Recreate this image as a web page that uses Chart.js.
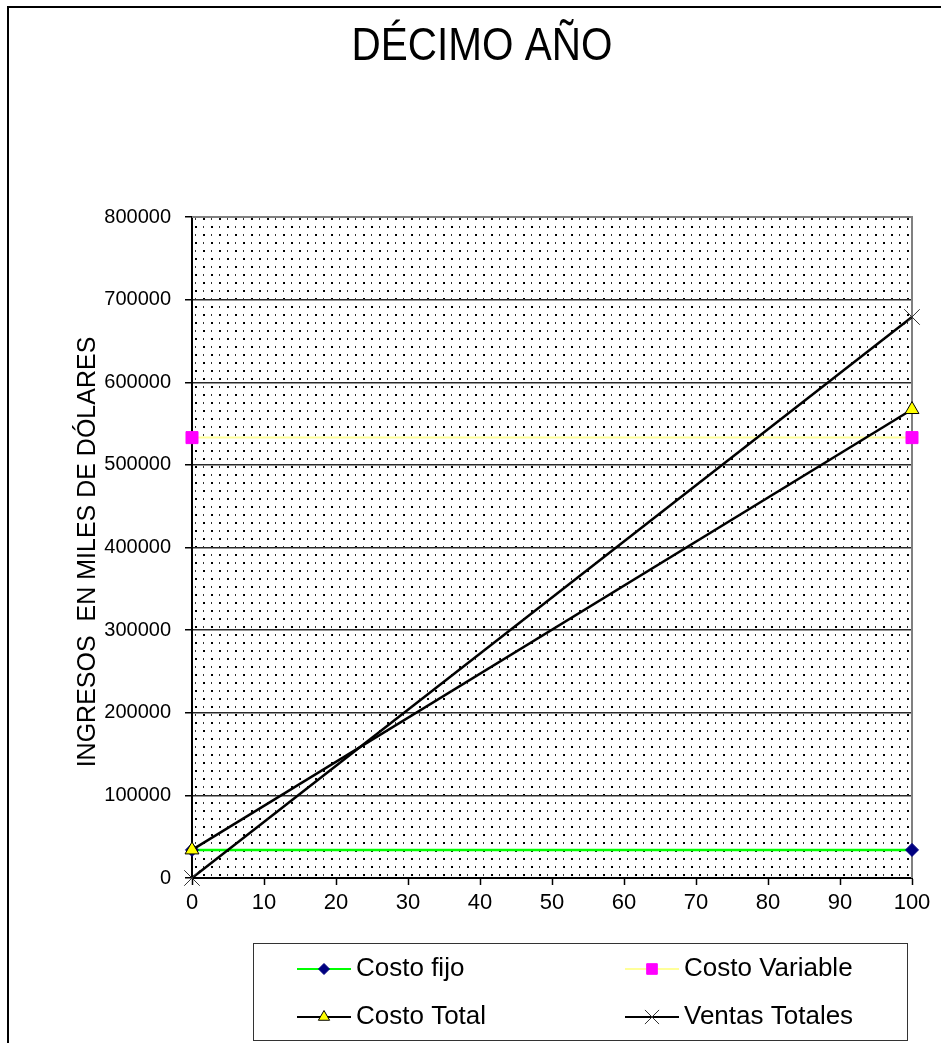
<!DOCTYPE html>
<html>
<head>
<meta charset="utf-8">
<script src="https://cdn.jsdelivr.net/npm/chart.js@4"></script>
<style>
  html, body { margin: 0; padding: 0; background: #fff; }
  #wrap { position: absolute; left: 0; top: 0; width: 941px; height: 1043px; }
</style>
</head>
<body>
<div id="wrap"><canvas id="chart" width="941" height="1043"></canvas></div>
<script>
// ===== Data =====
const xValues = [0, 100];
const costoFijo = [34000, 34000];
const costoVariable = [533000, 533000];
const costoTotal = [34000, 567000];
const ventasTotales = [0, 679000];
const seriesLabels = ['Costo fijo', 'Costo Variable', 'Costo Total', 'Ventas Totales'];
const chartTitle = 'DÉCIMO AÑO';
const yTitle = 'INGRESOS  EN MILES DE DÓLARES';

const FONT = "'Liberation Sans', Arial, sans-serif";
Chart.defaults.font.family = FONT;
Chart.defaults.color = '#000';

const pts = arr => arr.map((y, i) => ({ x: xValues[i], y }));

// dotted fill of the plot area
function makePattern(ctx) {
  const c = document.createElement('canvas');
  c.width = 16; c.height = 16;
  const p = c.getContext('2d');
  p.fillStyle = '#fff';
  p.fillRect(0, 0, 16, 16);
  p.fillStyle = '#000';
  p.fillRect(3, 2, 2, 2);
  p.fillRect(11, 10, 2, 2);
  p.fillStyle = '#333';
  p.fillRect(11, 2, 1, 2);
  p.fillRect(3, 10, 1, 2);
  return ctx.createPattern(c, 'repeat');
}

const decor = {
  id: 'decor',
  beforeDraw(chart) {
    const { ctx, chartArea: a } = chart;
    ctx.save();
    ctx.fillStyle = '#fff';
    ctx.fillRect(0, 0, chart.width, chart.height);
    ctx.fillStyle = makePattern(ctx);
    ctx.fillRect(a.left, a.top, a.right - a.left, a.bottom - a.top);
    ctx.restore();
  },
  beforeDatasetsDraw(chart) {
    const { ctx, chartArea: a } = chart;
    ctx.save();
    ctx.strokeStyle = '#808080';
    ctx.lineWidth = 2;
    ctx.beginPath();
    ctx.moveTo(a.left, a.top);
    ctx.lineTo(a.right, a.top);
    ctx.lineTo(a.right, a.bottom);
    ctx.stroke();
    ctx.restore();
  },
  afterDraw(chart) {
    const { ctx } = chart;
    ctx.save();
    // outer frame
    ctx.strokeStyle = '#000';
    ctx.lineWidth = 2;
    ctx.strokeRect(8, 7, 960, 1060);

    // title (slightly condensed, like the original)
    ctx.fillStyle = '#000';
    ctx.textAlign = 'center';
    ctx.textBaseline = 'middle';
    ctx.save();
    ctx.translate(482, 47);
    ctx.scale(0.88, 1);
    ctx.font = '46px ' + FONT;
    ctx.fillText(chartTitle, 0, 0);
    ctx.restore();

    // y axis title
    ctx.save();
    ctx.translate(88, 552);
    ctx.rotate(-Math.PI / 2);
    ctx.font = '25px ' + FONT;
    ctx.fillText(yTitle, 0, 0);
    ctx.restore();

    // legend
    ctx.strokeStyle = '#333';
    ctx.lineWidth = 1;
    ctx.strokeRect(253.5, 943.5, 654, 97);
    const slots = [[297, 969], [625, 969], [297, 1017], [625, 1017]];
    chart.data.datasets.forEach((ds, i) => {
      const [x, y] = slots[i];
      ctx.strokeStyle = ds.borderColor;
      ctx.lineWidth = 2;
      ctx.beginPath();
      ctx.moveTo(x, y);
      ctx.lineTo(x + 54, y);
      ctx.stroke();
      ctx.fillStyle = ds.pointBackgroundColor;
      ctx.strokeStyle = ds.pointBorderColor;
      ctx.lineWidth = ds.pointBorderWidth;
      Chart.helpers.drawPoint(ctx, {
        pointStyle: ds.pointStyle,
        radius: ds.legendRadius,
        rotation: 0,
        borderWidth: ds.pointBorderWidth
      }, x + 27, y);
      ctx.fillStyle = '#000';
      ctx.textAlign = 'left';
      ctx.textBaseline = 'middle';
      ctx.font = '26px ' + FONT;
      ctx.fillText(ds.label, x + 59, y);
    });
    ctx.restore();
  }
};

new Chart(document.getElementById('chart'), {
  type: 'line',
  data: {
    datasets: [
      { label: seriesLabels[0], data: pts(costoFijo), borderColor: '#00ff00', borderWidth: 2.5,
        pointStyle: 'rectRot', pointRadius: 6.5, legendRadius: 5.5, pointBackgroundColor: '#000080',
        pointBorderColor: '#000080', pointBorderWidth: 1, order: 4, clip: false },
      { label: seriesLabels[1], data: pts(costoVariable), borderColor: '#ffff99', borderWidth: 2,
        pointStyle: 'rect', pointRadius: 8.5, legendRadius: 7.5, pointBackgroundColor: '#ff00ff',
        pointBorderColor: '#ff00ff', pointBorderWidth: 1, order: 3, clip: false },
      { label: seriesLabels[2], data: pts(costoTotal), borderColor: '#000', borderWidth: 2.5,
        pointStyle: 'triangle', pointRadius: 8, legendRadius: 6.5, pointBackgroundColor: '#ffff00',
        pointBorderColor: '#000', pointBorderWidth: 1, order: 2, clip: false },
      { label: seriesLabels[3], data: pts(ventasTotales), borderColor: '#000', borderWidth: 2.5,
        pointStyle: 'crossRot', pointRadius: 11, legendRadius: 10, pointBackgroundColor: '#333',
        pointBorderColor: '#333', pointBorderWidth: 1, order: 1, clip: false }
    ]
  },
  options: {
    responsive: false,
    animation: false,
    events: [],
    layout: { padding: { top: 217, right: 29, bottom: 0, left: 0 } },
    plugins: { legend: { display: false }, title: { display: false }, tooltip: { enabled: false } },
    elements: { line: { tension: 0 } },
    scales: {
      x: {
        type: 'linear', min: 0, max: 100,
        ticks: { stepSize: 10, font: { size: 22 }, padding: 5, maxRotation: 0, color: '#000' },
        grid: { drawOnChartArea: false, drawTicks: true, tickLength: 7, tickColor: '#000', tickWidth: 1.5 },
        border: { color: '#000', width: 2 },
        afterFit(s) { s.height = 165; }
      },
      y: {
        min: 0, max: 800000,
        ticks: { stepSize: 100000, font: { size: 20 }, padding: 14, color: '#000', callback: v => String(v) },
        grid: { color: '#2a2a2a', lineWidth: 1.5, tickLength: 7, tickColor: '#000', tickWidth: 1.5 },
        border: { color: '#000', width: 2 },
        afterFit(s) { s.width = 192; }
      }
    }
  },
  plugins: [decor]
});
</script>
</body>
</html>
